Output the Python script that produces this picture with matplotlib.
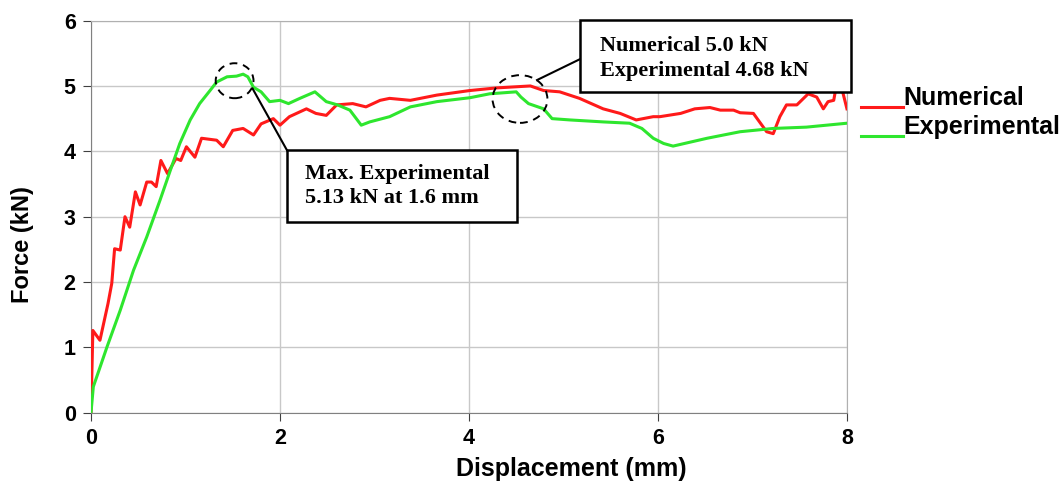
import numpy as np
import matplotlib.pyplot as plt
from matplotlib.patches import Ellipse, Rectangle
from matplotlib.legend_handler import HandlerLine2D

# Numerical (FE) force-displacement curve
num_disp = [0.0, 0.02, 0.095, 0.18, 0.22, 0.25, 0.31, 0.36, 0.41, 0.47, 0.52, 0.59, 0.64,
            0.69, 0.74, 0.81, 0.9, 0.95, 1.01, 1.10, 1.17, 1.33, 1.40, 1.50, 1.61, 1.72,
            1.80, 1.93, 2.0, 2.1, 2.28, 2.38, 2.49, 2.6, 2.77, 2.91, 3.06, 3.16, 3.38,
            3.66, 4.01, 4.29, 4.65, 4.79, 4.96, 5.17, 5.42, 5.6, 5.77, 5.95, 6.02, 6.24,
            6.39, 6.55, 6.66, 6.80, 6.87, 7.01, 7.15, 7.22, 7.29, 7.36, 7.47, 7.59, 7.68,
            7.75, 7.80, 7.86, 7.89, 7.92, 7.96, 8.0]
num_force = [0.0, 1.26, 1.11, 1.67, 1.98, 2.51, 2.49, 3.0, 2.84, 3.38, 3.18, 3.53, 3.53,
             3.46, 3.86, 3.66, 3.89, 3.86, 4.07, 3.91, 4.2, 4.17, 4.07, 4.32, 4.35, 4.25,
             4.42, 4.5, 4.4, 4.53, 4.65, 4.58, 4.55, 4.71, 4.73, 4.68, 4.78, 4.81, 4.78,
             4.86, 4.93, 4.97, 5.0, 4.93, 4.91, 4.81, 4.65, 4.58, 4.48, 4.53, 4.53, 4.58,
             4.65, 4.67, 4.63, 4.63, 4.59, 4.58, 4.30, 4.27, 4.53, 4.71, 4.71, 4.88, 4.83,
             4.65, 4.76, 4.78, 5.02, 5.05, 4.88, 4.65]

# Experimental curve
exp_disp = [0.0, 0.025, 0.17, 0.31, 0.45, 0.59, 0.73, 0.84, 0.94, 1.05, 1.15, 1.26, 1.33,
            1.44, 1.54, 1.61, 1.66, 1.72, 1.80, 1.89, 2.0, 2.09, 2.21, 2.37, 2.49, 2.61,
            2.74, 2.86, 2.95, 3.16, 3.38, 3.66, 4.01, 4.22, 4.50, 4.55, 4.63, 4.79, 4.88,
            5.07, 5.42, 5.70, 5.83, 5.95, 6.06, 6.16, 6.52, 6.87, 7.22, 7.57, 8.0]
exp_force = [0.0, 0.4, 1.01, 1.57, 2.18, 2.69, 3.25, 3.71, 4.12, 4.48, 4.73, 4.93, 5.06,
             5.14, 5.15, 5.18, 5.14, 4.98, 4.91, 4.76, 4.78, 4.73, 4.81, 4.91, 4.76, 4.71,
             4.63, 4.40, 4.45, 4.53, 4.68, 4.76, 4.82, 4.88, 4.91, 4.83, 4.73, 4.65, 4.50,
             4.48, 4.45, 4.43, 4.35, 4.2, 4.12, 4.08, 4.2, 4.30, 4.35, 4.37, 4.43]

x_ticks = [0, 2, 4, 6, 8]
y_ticks = [0, 1, 2, 3, 4, 5, 6]

sans = ['Liberation Sans', 'DejaVu Sans']
serif = ['Liberation Serif', 'DejaVu Serif']


# legend line sits on the text baseline, not in the middle
class BaselineHandler(HandlerLine2D):
    def create_artists(self, legend, orig_handle, xdescent, ydescent, width, height,
                       fontsize, trans):
        artists = super().create_artists(legend, orig_handle, xdescent, ydescent,
                                         width, height, fontsize, trans)
        for a in artists:
            a.set_ydata(np.asarray(a.get_ydata()) * 0 - ydescent - 0.05 * fontsize)
        return artists


fig = plt.figure(figsize=(10.64, 4.84), dpi=100)
ax = fig.add_axes([0.0855, 0.147, 0.7105, 0.8105])

ax.plot(num_disp, num_force, color='#ff1a1a', lw=2.2, label='Numerical', zorder=3)
ax.plot(exp_disp, exp_force, color='#2ee62e', lw=2.2, label='Experimental', zorder=3)

ax.set_xlim(0, 8)
ax.set_ylim(0, 6)
ax.set_xticks(x_ticks)
ax.set_yticks(y_ticks)
ax.grid(True, color='#c8c8c8', lw=1)
ax.set_axisbelow(True)
for s in ['top', 'right']:
    ax.spines[s].set_color('#b0b0b0')
for s in ['left', 'bottom']:
    ax.spines[s].set_color('#808080')
ax.tick_params(direction='out', length=6, color='#404040', pad=5)
for lab in ax.get_xticklabels() + ax.get_yticklabels():
    lab.set_family(sans)
    lab.set_fontweight('bold')
    lab.set_fontsize(15.5)

ax.set_xlabel('Displacement (mm)', family=sans, fontweight='bold', fontsize=18)
ax.set_ylabel('Force (kN)', family=sans, fontweight='bold', fontsize=17)
ax.xaxis.set_label_coords(0.636, -0.142, transform=ax.transAxes)
ax.yaxis.set_label_coords(-0.091, 0.43, transform=ax.transAxes)
ax.xaxis.label.set_va('center')
ax.yaxis.label.set_va('center')

# dashed circles around the peaks
ax.add_patch(Ellipse((1.52, 5.08), 0.40, 0.535, fill=False, ls=(0, (4, 3)), lw=1.4,
                     color='black', zorder=4))
ax.add_patch(Ellipse((4.54, 4.80), 0.58, 0.73, fill=False, ls=(0, (4, 3)), lw=1.4,
                     color='black', zorder=4))

# callout boxes with leader lines
ax.plot([1.71, 2.074], [4.96, 4.017], color='black', lw=1.5, zorder=5, clip_on=False)
ax.add_patch(Rectangle((2.074, 2.916), 2.434, 1.101, fc='white', ec='black', lw=1.8,
                       zorder=5, clip_on=False))
ax.text(2.265, 3.47, 'Max. Experimental\n5.13 kN at 1.6 mm', family=serif,
        fontweight='bold', fontsize=16, ha='left', va='center', linespacing=1.3, zorder=6)

ax.plot([4.72, 5.175], [5.09, 5.41], color='black', lw=1.5, zorder=5, clip_on=False)
ax.add_patch(Rectangle((5.175, 4.904), 2.867, 1.101, fc='white', ec='black', lw=1.8,
                       zorder=5, clip_on=False))
ax.text(5.386, 5.42, 'Numerical 5.0 kN\nExperimental 4.68 kN', family=serif,
        fontweight='bold', fontsize=16, ha='left', va='center', linespacing=1.3, zorder=6)

leg = ax.legend(loc='upper left', bbox_to_anchor=(1.018, 0.832), frameon=False,
                handlelength=1.7, handletextpad=0.0, borderaxespad=0, borderpad=0,
                labelspacing=0.2, prop=dict(family=sans, weight='bold', size=18),
                handler_map={plt.Line2D: BaselineHandler()})

fig.savefig('out.png', dpi=100)
